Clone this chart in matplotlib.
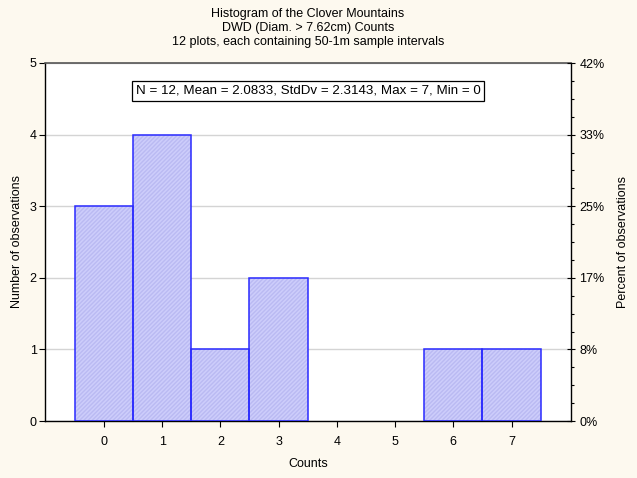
import matplotlib
matplotlib.use("Agg")
import matplotlib.pyplot as plt
from matplotlib.ticker import FixedLocator, AutoMinorLocator

plt.rcParams['font.family'] = ['Liberation Sans', 'DejaVu Sans']

# Histogram data: number of plots per DWD count
count_values = [0, 1, 2, 3, 4, 5, 6, 7]
observations = [3, 4, 1, 2, 0, 0, 1, 1]
n_plots = 12
stats_text = "N = 12, Mean = 2.0833, StdDv = 2.3143, Max = 7, Min = 0"
title_lines = ["Histogram of the Clover Mountains",
               "DWD (Diam. > 7.62cm) Counts",
               "12 plots, each containing 50-1m sample intervals"]

fs = 9
bg = '#fdf9ef'
fig = plt.figure(figsize=(6.37, 4.78), dpi=100, facecolor=bg)
ax = fig.add_axes([45 / 637, 1 - 421 / 478, (571 - 45) / 637, (421 - 63) / 478])
ax.set_facecolor('white')

# only non-empty classes get a bar
xs = [x for x, v in zip(count_values, observations) if v > 0]
hs = [v for v in observations if v > 0]

# hatched fill layer, then blue outline
ax.bar(xs, hs, width=1.0, color='#cdcdfb', edgecolor='#babaf2',
       linewidth=0, hatch='////////', zorder=2)
ax.bar(xs, hs, width=1.0, facecolor='none', edgecolor='#2a2aff',
       linewidth=1.1, zorder=3)

ax.set_xlim(-1.01, 8.02)
ax.set_ylim(0, 5)
ax.set_xticks(count_values)
ax.set_yticks(range(0, 6))
ax.yaxis.grid(True, color='#d4d4d4', linewidth=1.0, zorder=0)
ax.set_axisbelow(True)

for side in ['left', 'bottom', 'right']:
    ax.spines[side].set_color('black')
    ax.spines[side].set_linewidth(1.0)
ax.spines['top'].set_color('#555555')
ax.spines['top'].set_linewidth(1.2)

ax.tick_params(axis='both', direction='out', length=4, width=0.8, labelsize=fs,
               colors='black', pad=2)
ax.tick_params(axis='x', pad=7)
ax.set_xlabel('Counts', fontsize=fs, labelpad=7)
ax.set_ylabel('Number of observations', fontsize=fs, labelpad=5)

# percent axis on the right
ax2 = ax.twinx()
ax2.set_ylim(0, 5)
ax2.yaxis.set_major_locator(FixedLocator(range(0, 6)))
ax2.set_yticklabels([f"{round(v / n_plots * 100):.0f}%" for v in range(0, 6)])
ax2.yaxis.set_minor_locator(AutoMinorLocator(4))
ax2.tick_params(axis='y', which='major', direction='inout', length=6, width=0.8,
                labelsize=fs, pad=3)
ax2.tick_params(axis='y', which='minor', direction='out', length=2.5, width=0.8)
ax2.set_ylabel('Percent of observations', fontsize=fs, labelpad=9)
for s in ax2.spines.values():
    s.set_visible(False)

ax.text(0.5, 0.922, stats_text, transform=ax.transAxes, ha='center', va='center',
        fontsize=9.6, zorder=5,
        bbox=dict(boxstyle='square,pad=0.3', facecolor='white', edgecolor='black',
                  linewidth=0.9))

for i, line in enumerate(title_lines):
    fig.text(308 / 637, 1 - (14 + 14 * i) / 478, line, ha='center', va='center',
             fontsize=fs)

fig.savefig('out.png', dpi=100, facecolor=bg)
